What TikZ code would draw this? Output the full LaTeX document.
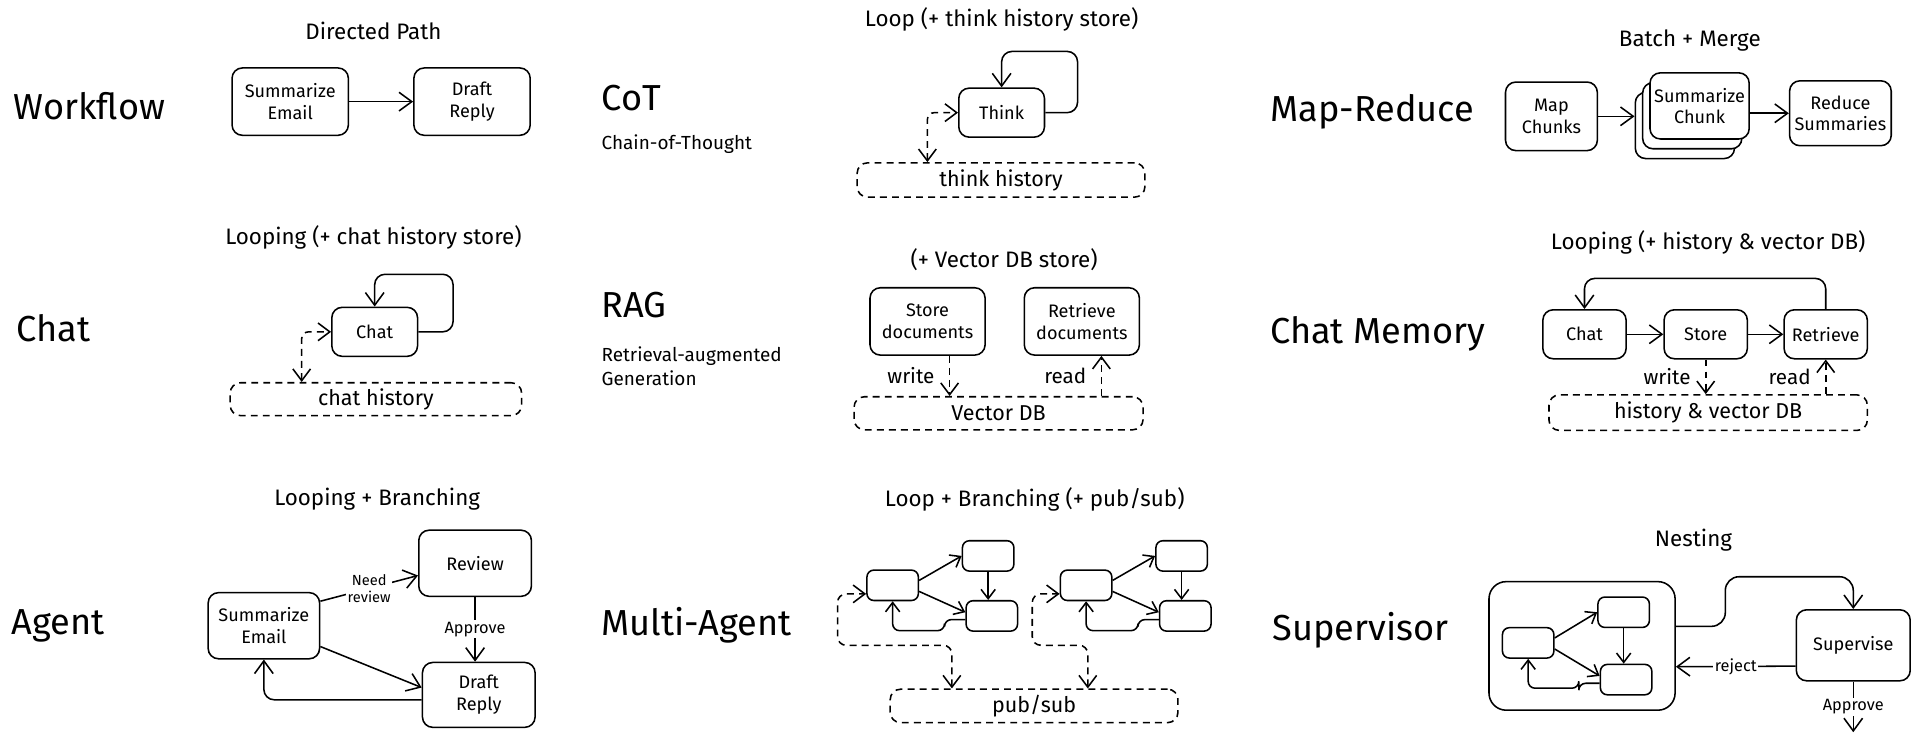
\documentclass[tikz,border=0pt]{standalone}
\usepackage{fontspec}
\setmainfont{Fira Sans}
\usetikzlibrary{arrows.meta,calc}

\begin{document}
\begin{tikzpicture}[x=0.025cm, y=-0.025cm, line width=0.9pt,
  pbox/.style 2 args={draw, rounded corners=6pt, align=center, inner sep=1pt,
    minimum width=#1*0.025cm, minimum height=#2*0.025cm, font=\fontsize{10.5}{12.5}\selectfont},
  mbox/.style={draw, rounded corners=4pt, minimum width=1.05cm, minimum height=0.62cm},
  dbox/.style 2 args={draw, dash pattern=on 4pt off 3pt, rounded corners=6pt,
    minimum width=#1*0.025cm, minimum height=#2*0.025cm, font=\fontsize{12.5}{15}\selectfont},
  big/.style={anchor=west, font=\fontsize{21}{25}\selectfont},
  sub/.style={font=\fontsize{13}{16}\selectfont},
  note/.style={anchor=west, align=left, font=\fontsize{11}{14}\selectfont},
  lab/.style={font=\fontsize{12}{14}\selectfont},
  tag/.style={fill=white, inner sep=1pt, font=\fontsize{9.5}{11}\selectfont},
  tiny/.style={fill=white, inner sep=1pt, align=center, font=\fontsize{8.5}{10}\selectfont},
  arr/.style={-{Straight Barb[length=2.6mm,width=3.8mm]}},
  marr/.style={-{Straight Barb[length=1.9mm,width=2.9mm]}},
  dline/.style={dash pattern=on 4pt off 3pt, -{Straight Barb[length=2.4mm,width=3.6mm]}},
  darr/.style={dash pattern=on 4pt off 3pt,
    {Straight Barb[length=2.4mm,width=3.6mm]}-{Straight Barb[length=2.4mm,width=3.6mm]}}]
  \path[use as bounding box, fill=white] (0,0) rectangle (1568,610);

  % Workflow
  \node[big] (lwork) at (6,87) {Workflow};
  \node[sub] (twork) at (305,25) {Directed Path};
  \node[pbox={95}{55}] (wsum) at (237,83) {Summarize\\Email};
  \node[pbox={95}{55}] (wdraft) at (385.5,83) {Draft\\Reply};
  \draw[arr] (wsum) -- (wdraft);

  % CoT
  \node[big] (lcot) at (486,80) {CoT};
  \node[note] (ncot) at (486,118) {Chain-of-Thought};
  \node[sub] (tcot) at (818,16) {Loop (+ think history store)};
  \node[pbox={70}{40}] (think) at (818,92) {Think};
  \node[dbox={235}{28}] (thist) at (817.5,147) {think history};
  \draw[arr, rounded corners=6pt] (think.east) -| (880,42) -| (think.north);
  \draw[darr, rounded corners=4pt] ($(thist.north west)+(58,0)$) |- (think.west);

  % Map-Reduce
  \node[big] (lmr) at (1032,91) {Map-Reduce};
  \node[sub] (tmr) at (1380,33) {Batch + Merge};
  \node[pbox={75}{56}] (map) at (1267,95) {Map\\Chunks};
  \node[pbox={81}{54}, fill=white] (chunk3) at (1376,102.5) {};
  \node[pbox={81}{54}, fill=white] (chunk2) at (1382,94.5) {};
  \node[pbox={81}{54}, fill=white] (chunk1) at (1388,86.5) {Summarize\\Chunk};
  \node[pbox={83}{53}] (reduce) at (1503,92.5) {Reduce\\Summaries};
  \draw[arr] (map.east) -- (map.east -| chunk3.west);
  \draw[arr] (reduce.west -| chunk1.east) -- (reduce.west);

  % Chat
  \node[big] (lchat) at (8,268) {Chat};
  \node[sub] (tchat) at (305,194) {Looping (+ chat history store)};
  \node[pbox={70}{40}] (chat) at (306,271) {Chat};
  \node[dbox={238}{26}] (chist) at (307,326) {chat history};
  \draw[arr, rounded corners=6pt] (chat.east) -| (370,224) -| (chat.north);
  \draw[darr, rounded corners=4pt] ($(chist.north west)+(59,0)$) |- (chat.west);

  % RAG
  \node[big] (lrag) at (486,249) {RAG};
  \node[note] (nrag) at (486,299) {Retrieval-augmented\\Generation};
  \node[sub] (trag) at (820,212) {(+ Vector DB store)};
  \node[pbox={94}{55}] (rstore) at (757.5,262.5) {Store\\documents};
  \node[pbox={94}{55}] (rret) at (883.5,262.5) {Retrieve\\documents};
  \node[dbox={236}{27}] (vdb) at (815.5,337.5) {Vector DB};
  \coordinate (rw) at ($(rstore.south)+(18,0)$);
  \coordinate (rr) at ($(rret.south)+(16,0)$);
  \draw[dline] (rw) -- (rw |- vdb.north) node[midway, left=5pt, lab] {write};
  \draw[dline] (rr |- vdb.north) -- (rr) node[midway, left=5pt, lab] {read};

  % Chat Memory
  \node[big] (lmem) at (1032,273) {Chat Memory};
  \node[sub] (tmem) at (1395,198) {Looping (+ history \& vector DB)};
  \node[pbox={68}{40}] (mchat) at (1294,273) {Chat};
  \node[pbox={68}{40}] (mstore) at (1393,273) {Store};
  \node[pbox={68}{40}] (mret) at (1491,273) {Retrieve};
  \node[dbox={260}{29}] (mdb) at (1395,337) {history \& vector DB};
  \draw[arr] (mchat) -- (mstore);
  \draw[arr] (mstore) -- (mret);
  \draw[arr, rounded corners=6pt] (mret.north) -- ++(0,-25) -| (mchat.north);
  \draw[dline] (mstore.south) -- (mstore.south |- mdb.north) node[midway, left=5pt, lab] {write};
  \draw[dline] (mret.south |- mdb.north) -- (mret.south) node[midway, left=5pt, lab] {read};

  % Agent
  \node[big] (lagent) at (4,511) {Agent};
  \node[sub] (tagent) at (308,408) {Looping + Branching};
  \node[pbox={91}{54}] (asum) at (215.5,511) {Summarize\\Email};
  \node[pbox={92}{54}] (arev) at (388,460) {Review};
  \node[pbox={92}{53}] (adraft) at (391,567.5) {Draft\\Reply};
  \draw[arr] ($(asum.east)+(0,-20)$) -- ($(arev.west)+(0,10)$) node[midway, tiny] {Need\\review};
  \draw[arr] (arev.south) -- (arev.south |- adraft.north) node[midway, tag] {Approve};
  \draw[arr] ($(asum.east)+(0,17)$) -- ($(adraft.west)+(0,-6)$);
  \draw[arr, rounded corners=6pt] ($(adraft.west)+(0,4)$) -| (asum.south);

  % Multi-Agent
  \node[big] (lmulti) at (486,511) {Multi-Agent};
  \node[sub] (tmulti) at (845,408) {Loop + Branching (+ pub/sub)};
  \node[mbox] (ma1) at (729,478) {};
  \node[mbox] (mb1) at (807,454) {};
  \node[mbox] (mc1) at (810,503) {};
  \node[mbox] (ma2) at (887,478) {};
  \node[mbox] (mb2) at (965,454) {};
  \node[mbox] (mc2) at (968,503) {};
  \node[dbox={235}{27}] (pub) at (844.5,576.5) {pub/sub};
  \draw[marr] ($(ma1.east)+(0,-4)$) -- (mb1.west);
  \draw[marr] ($(ma1.east)+(0,5)$) -- ($(mc1.west)+(0,-3)$);
  \draw[marr] (mb1.south) -- (mb1.south |- mc1.north);
  \draw[marr, rounded corners=4pt] ($(mc1.west)+(0,3)$) -- ++(-17,0) |- ($(ma1.south)+(0,24)$) -- (ma1.south);
  \draw[marr] ($(ma2.east)+(0,-4)$) -- (mb2.west);
  \draw[marr] ($(ma2.east)+(0,5)$) -- ($(mc2.west)+(0,-3)$);
  \draw[marr] (mb2.south) -- (mb2.south |- mc2.north);
  \draw[marr, rounded corners=4pt] ($(mc2.west)+(0,3)$) -- ++(-17,0) |- ($(ma2.south)+(0,24)$) -- (ma2.south);
  \draw[darr, rounded corners=5pt] ($(pub.north west)+(51,0)$) |- (684,527) |- ($(ma1.west)+(0,7)$);
  \draw[darr, rounded corners=5pt] ($(pub.north west)+(162,0)$) |- (843,527) |- ($(ma2.west)+(0,7)$);

  % Supervisor
  \node[big] (lsup) at (1034,515) {Supervisor};
  \node[sub] (tsup) at (1383,441) {Nesting};
  \node[pbox={152}{105}, rounded corners=10pt] (outer) at (1292,527.5) {};
  \node[mbox] (sa) at (1248,525) {};
  \node[mbox] (sb) at (1326,500) {};
  \node[mbox] (sc) at (1328,555) {};
  \draw[marr] ($(sa.east)+(0,-4)$) -- (sb.west);
  \draw[marr] ($(sa.east)+(0,5)$) -- ($(sc.west)+(0,-3)$);
  \draw[marr] (sb.south) -- (sb.south |- sc.north);
  \draw[marr, rounded corners=4pt] ($(sc.west)+(0,3)$) -- ++(-17,0) |- ($(sa.south)+(0,24)$) -- (sa.south);
  \node[pbox={93}{58}] (sup) at (1513.5,527) {Supervise};
  \draw[arr, rounded corners=8pt] ($(outer.east)+(0,-16)$) -| (1409,471) -| (sup.north);
  \draw[arr] ($(sup.west)+(0,17)$) -- ($(outer.east)+(0,17)$) node[midway, tag] {reject};
  \coordinate (supend) at (1513.5,598);
  \draw[arr] (sup.south) -- (supend) node[midway, tag] {Approve};
\end{tikzpicture}
\end{document}
